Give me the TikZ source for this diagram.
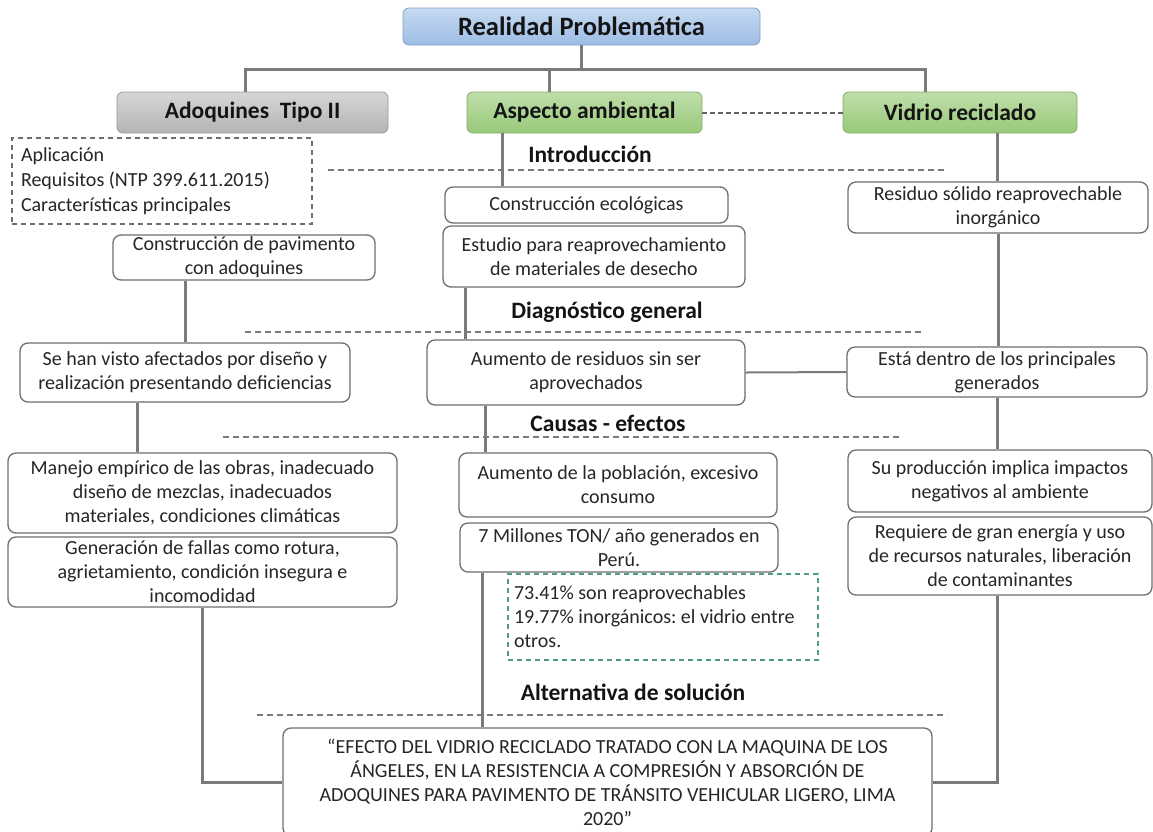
\documentclass[tikz,border=0pt]{standalone}
\usepackage{fontspec}
\setmainfont{Carlito}
\frenchspacing
\definecolor{linegray}{HTML}{7A7A7A}
\definecolor{boxgray}{HTML}{6E6E6E}
\definecolor{txt}{HTML}{262626}
\definecolor{hdtxt}{HTML}{141414}
\definecolor{bluetop}{HTML}{C6DAF2}
\definecolor{bluebot}{HTML}{9DBCE4}
\definecolor{greentop}{HTML}{BFDEAA}
\definecolor{greenbot}{HTML}{98C97A}
\definecolor{graytop}{HTML}{D6D6D6}
\definecolor{graybot}{HTML}{B4B4B4}
\definecolor{tealdash}{HTML}{4E9C86}
\tikzset{
  body/.style={font=\fontsize{20}{24}\selectfont\frenchspacing, text=txt},
  box/.style={body, draw=boxgray, line width=1.3pt, rounded corners=8pt, fill=white, align=center, inner sep=0pt},
  hbox/.style={draw=#1bot!85!black, line width=0.8pt, rounded corners=6pt, top color=#1top, bottom color=#1bot,
     font=\fontsize{23.5}{27}\selectfont\bfseries, text=hdtxt, inner sep=0pt},
  heading/.style={font=\fontsize{23.5}{27}\selectfont\bfseries, text=hdtxt, inner sep=0pt},
  conn/.style={draw=linegray, line width=3pt},
  sep/.style={draw=linegray, line width=1.2pt, dash pattern=on 6pt off 4pt},
  link/.style={draw=linegray!80!black, line width=2pt, dash pattern=on 5pt off 3pt},
  dbox/.style={body, draw=#1, line width=1.2pt, dash pattern=on 5pt off 4pt, align=flush left, inner sep=0pt},
}
\begin{document}
\begin{tikzpicture}[x=1pt,y=-1pt]
\useasboundingbox[fill=white] (0,0) rectangle (1153,831);

% header boxes
\node[hbox=blue, minimum width=357, minimum height=37, font=\fontsize{26.5}{30}\selectfont\bfseries] (top) at (581.5,26.5) {Realidad Problemática};
\node[hbox=gray, minimum width=271, minimum height=41] (ado) at (252.5,112.5) {Adoquines\ \ Tipo II};
\node[hbox=green, minimum width=235, minimum height=41] (asp) at (584.5,112.5) {Aspecto ambiental};
\node[hbox=green, minimum width=234, minimum height=41] (vid) at (960,112.5) {Vidrio reciclado};

% section headings and separators
\node[heading] (hintro) at (590,154) {Introducción};
\node[heading] (hdiag) at (607,312) {Diagnóstico general};
\node[heading] (hcaus) at (608,423) {Causas - efectos};
\node[heading] (halt) at (633,692) {Alternativa de solución};
\coordinate (i1) at (328,170); \coordinate (i2) at (947,170);
\coordinate (d1) at (245,332); \coordinate (d2) at (923,332);
\coordinate (c1) at (223,437); \coordinate (c2) at (902,437);
\coordinate (a1) at (257,715); \coordinate (a2) at (947,715);
\draw[sep] (i1) -- (i2);
\draw[sep] (d1) -- (d2);
\draw[sep] (c1) -- (c2);
\draw[sep] (a1) -- (a2);

% connectors (drawn before boxes so that boxes sit on top)
\draw[conn] (top.south) -- ++(0,25);
\draw[conn] ([xshift=-7]ado.north) -- ++(0,-22) -| ([xshift=-35]vid.north);
\draw[conn] ([xshift=-35]asp.north) -- ++(0,-22);
\draw[link] (asp.east) -- (vid.west);

% left column
\node[dbox=boxgray, text width=282, minimum width=300, minimum height=86] (req1) at (162,181)
  {Aplicación\\[1pt]Requisitos (NTP 399.611.2015)\\[1pt]Características principales};
\node[box, minimum width=262, minimum height=45] (pav) at (244,257.5) {Construcción de pavimento\\con adoquines};
\node[box, minimum width=330, minimum height=59] (sehan) at (185,372.5) {Se han visto afectados por diseño y\\realización presentando deficiencias};
\node[box, minimum width=389, minimum height=80] (manejo) at (202.5,493) {Manejo empírico de las obras, inadecuado\\diseño de mezclas, inadecuados\\materiales, condiciones climáticas};
\node[box, minimum width=389, minimum height=70] (gener) at (202.5,572) {Generación de fallas como rotura,\\agrietamiento, condición insegura e\\incomodidad};

% middle column
\node[box, minimum width=283, minimum height=36] (ceco) at (586.5,205) {Construcción ecológicas};
\node[box, minimum width=302, minimum height=61] (estudio) at (594,256.5) {Estudio para reaprovechamiento\\de materiales de desecho};
\node[box, minimum width=318, minimum height=65] (aumres) at (586,372.5) {Aumento de residuos sin ser\\aprovechados};
\node[box, minimum width=318, minimum height=64] (aumpob) at (618,485) {Aumento de la población, excesivo\\consumo};
\node[box, minimum width=318, minimum height=49] (mill) at (619,547.5) {7 Millones TON/ año generados en\\Perú.};
\node[dbox=tealdash, text width=298, minimum width=310, minimum height=86] (stat) at (663,617)
  {73.41\% son reaprovechables\\19.77\% inorgánicos: el vidrio entre\\otros.\\[4pt]};

% right column
\node[box, minimum width=300, minimum height=51] (resid) at (998,207.5) {Residuo sólido reaprovechable\\inorgánico};
\node[box, minimum width=300, minimum height=50] (esta) at (997,372) {Está dentro de los principales\\generados};
\node[box, minimum width=304, minimum height=62] (prod) at (1000,481) {Su producción implica impactos\\negativos al ambiente};
\node[box, minimum width=304, minimum height=78] (energ) at (1000,556) {Requiere de gran energía y uso\\de recursos naturales, liberación\\de contaminantes};

% bottom
\node[box, minimum width=649, minimum height=108] (final) at (607.5,782)
  {“EFECTO DEL VIDRIO RECICLADO TRATADO CON LA MAQUINA DE LOS\\ÁNGELES, EN LA RESISTENCIA A COMPRESIÓN Y ABSORCIÓN DE\\ADOQUINES PARA PAVIMENTO DE TRÁNSITO VEHICULAR LIGERO, LIMA\\2020”};

% vertical connectors between boxes
\draw[conn] ([xshift=-82]asp.south) -- ([xshift=-82]asp.south |- ceco.north);
\draw[conn] ([xshift=-129]estudio.south) -- ([xshift=-129]estudio.south |- aumres.north);
\draw[conn] (sehan.north |- pav.south) -- (sehan.north);
\draw[conn] ([xshift=-48]sehan.south) -- ([xshift=-48]sehan.south |- manejo.north);
\draw[conn] (gener.south) |- (final.west);
\draw[conn] ([xshift=-101]aumres.south) -- ([xshift=-101]aumres.south |- aumpob.north);
\draw[conn] ([xshift=-137]mill.south) -- ([xshift=-137]mill.south |- final.north);
\draw[conn, line width=2pt] (aumres.east) -- (esta.west);
\draw[conn] ([xshift=37]vid.south) -- ([xshift=37]vid.south |- resid.north);
\draw[conn] (esta.north -| resid.south) -- (resid.south);
\draw[conn] (esta.south) -- (esta.south |- prod.north);
\draw[conn] (energ.south -| esta.south) |- (final.east);
\end{tikzpicture}
\end{document}
